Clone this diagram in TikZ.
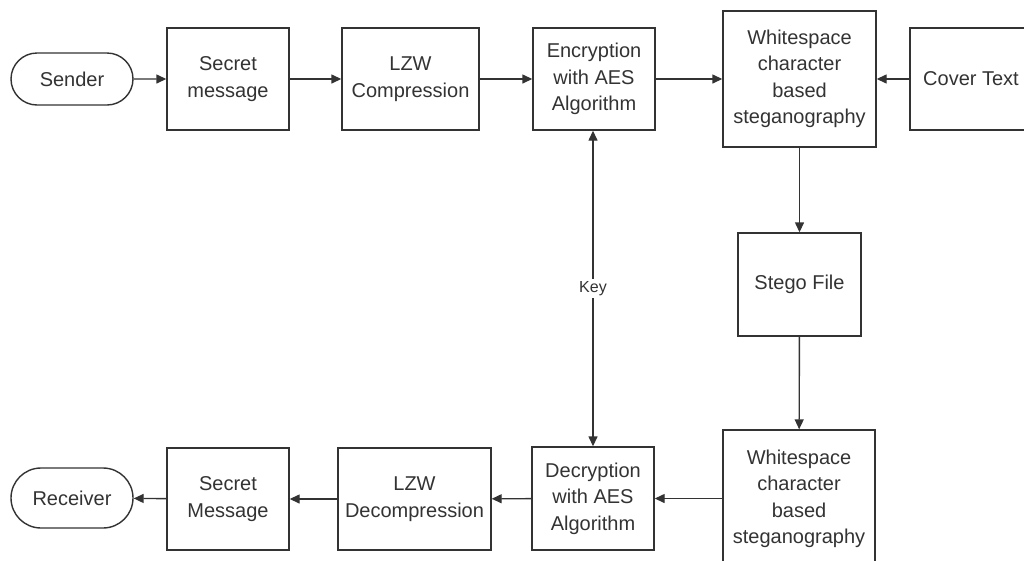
\documentclass[tikz,border=0pt]{standalone}
\usepackage{fontspec}
\setmainfont{Liberation Sans}
\usetikzlibrary{arrows.meta,shapes.misc}
\definecolor{ink}{HTML}{333333}
\begin{document}
\begin{tikzpicture}[x=1pt,y=-1pt,
  every node/.style={text=ink, font=\fontsize{20}{26.5}\selectfont, align=center, inner sep=0pt},
  blk/.style={draw=ink, line width=1.4pt, rectangle, fill=white},
  term/.style={draw=ink, line width=1.4pt, rounded rectangle, fill=white},
  conn/.style={draw=ink, line width=1.4pt, -{Triangle[length=10pt,width=9pt]}},
  biconn/.style={draw=ink, line width=1.4pt, {Triangle[length=10pt,width=9pt]}-{Triangle[length=10pt,width=9pt]}}]
\useasboundingbox (0,0) rectangle (1024,560);
\fill[white] (0,0) rectangle (1024,560);
% top row
\node[term, minimum width=122pt, minimum height=52pt] (sender) at (72,79) {Sender};
\node[blk, minimum width=122pt, minimum height=102pt] (smsg) at (228,79) {Secret\\message};
\node[blk, minimum width=137pt, minimum height=102pt] (lzw) at (410.5,79) {LZW\\Compression};
\node[blk, minimum width=122pt, minimum height=102pt] (enc) at (594,79) {Encryption\\with AES\\Algorithm};
\node[blk, minimum width=153pt, minimum height=136pt] (ws1) at (799.5,79) {Whitespace\\character\\based\\steganography};
\node[blk, minimum width=122pt, minimum height=102pt] (cover) at (971,79) {Cover Text};
% middle
\node[blk, minimum width=123pt, minimum height=103pt] (stego) at (799.5,284.5) {Stego File};
% bottom row
\node[blk, minimum width=152pt, minimum height=138pt] (ws2) at (799,499) {Whitespace\\character\\based\\steganography};
\node[blk, minimum width=122pt, minimum height=103pt] (dec) at (593,498.5) {Decryption\\with AES\\Algorithm};
\node[blk, minimum width=153pt, minimum height=102pt] (lzwd) at (414.5,499) {LZW\\Decompression};
\node[blk, minimum width=122pt, minimum height=102pt] (smsg2) at (228,499) {Secret\\Message};
\node[term, minimum width=122pt, minimum height=60pt] (recv) at (72,498) {Receiver};
% connectors
\draw[conn] (sender) -- (smsg);
\draw[conn] (smsg) -- (lzw);
\draw[conn] (lzw) -- (enc);
\draw[conn] (enc) -- (ws1);
\draw[conn] (cover) -- (ws1);
\draw[conn] (ws1) -- (stego);
\draw[conn] (stego) -- (ws2);
\draw[conn] (ws2.west |- dec) -- (dec);
\draw[conn] (dec) -- (lzwd);
\draw[conn] (lzwd) -- (smsg2);
\draw[conn] (smsg2) -- (recv);
\draw[biconn] (enc.south -| dec.south) -- node[fill=white, font=\fontsize{16}{18}\selectfont, inner sep=2pt] (key) {Key} (dec.north);
\end{tikzpicture}
\end{document}
